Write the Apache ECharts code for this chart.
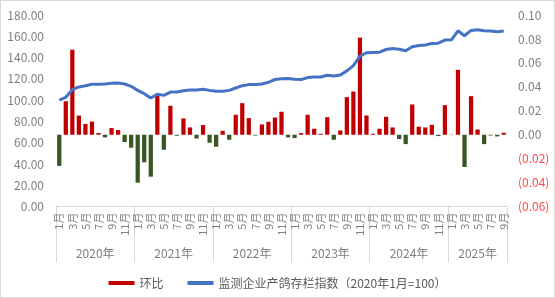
<!DOCTYPE html>
<html>
<head>
<meta charset="utf-8">
<script src="https://cdn.jsdelivr.net/npm/echarts@6/dist/echarts.min.js"></script>
<style>
html,body{margin:0;padding:0;background:#fff;}
#wrap{position:relative;width:555px;height:298px;}
#chart{position:absolute;left:0;top:0;width:555px;height:298px;}
#border{position:absolute;left:0;top:0;width:553px;height:296px;border:1px solid #d9d9d9;pointer-events:none;}
</style>
</head>
<body>
<div id="wrap"><div id="chart"></div><div id="border"></div></div>
<script>
// ---- data ----
const years = ['2020年', '2021年', '2022年', '2023年', '2024年', '2025年'];
const monthsPerYear = [12, 12, 12, 12, 12, 9];

// 环比 (month-on-month change), right axis
const momValues = [
  -0.026, 0.028, 0.071, 0.016, 0.009, 0.011, 0.0014, -0.0022, 0.0056, 0.0039, -0.0061, -0.0108,
  -0.040, -0.023, -0.035, 0.0325, -0.0125, 0.0242, -0.0008, 0.0136, 0.0061, -0.0031, 0.0081, -0.0067,
  -0.0100, 0.0033, -0.0042, 0.0167, 0.0264, 0.0139, -0.0006, 0.0086, 0.0108, 0.0144, 0.0192, -0.0022,
  -0.0028, 0.0014, 0.0167, 0.0050, 0.0008, 0.0147, -0.0042, 0.0036, 0.0314, 0.0361, 0.0811, 0.0161,
  0.0008, 0.0050, 0.0150, 0.0061, -0.0036, -0.0078, 0.0253, 0.0067, 0.0061, 0.0083, -0.0011, 0.0247,
  -0.0003, 0.0542, -0.0269, 0.0322, 0.0044, -0.0078, -0.0006, -0.0014, 0.0017
];

// 监测企业产鸽存栏指数（2020年1月=100）, left axis
const indexValues = [
  100.0, 102.7, 109.9, 112.4, 113.6, 114.9, 114.9, 115.2, 115.8, 116.2, 115.2, 113.0,
  109.2, 106.1, 102.0, 105.5, 104.5, 107.6, 107.6, 108.9, 109.5, 109.5, 110.2, 109.2,
  108.3, 108.3, 109.2, 111.4, 113.6, 114.6, 114.6, 115.2, 116.8, 119.4, 120.2, 120.3,
  119.6, 119.3, 121.2, 121.8, 121.8, 123.4, 122.7, 123.7, 127.5, 132.5, 141.3, 144.5,
  144.8, 145.1, 147.6, 148.5, 147.9, 146.4, 150.1, 151.3, 151.9, 153.2, 153.5, 156.4,
  156.7, 165.2, 160.5, 165.5, 166.1, 165.2, 164.9, 164.3, 164.9
];

const leftTicks = {min: 0, max: 180, interval: 20};
const rightTicks = {min: -0.06, max: 0.10, interval: 0.02};

// ---- build categories ----
const categories = [];
const yearStart = [];
years.forEach((y, yi) => {
  yearStart.push(categories.length);
  for (let m = 1; m <= monthsPerYear[yi]; m++) categories.push(y + m + '月');
});
const yearLabelIndex = {};
years.forEach((y, yi) => {
  const n = monthsPerYear[yi];
  const idx = yearStart[yi] + Math.floor(n / 2);
  yearLabelIndex[idx] = {text: y, even: n % 2 === 0};
});

const RED = '#C00000', GREEN = '#375623', BLUE = '#4472C4';
const FONT = '"Noto Sans CJK SC", "Noto Sans", sans-serif';
const barData = momValues.map(v => v < 0 ? {value: v, itemStyle: {color: GREEN}} : v);

const chart = echarts.init(document.getElementById('chart'));
chart.setOption({
  animation: false,
  backgroundColor: '#fff',
  textStyle: {fontFamily: FONT},
  grid: {left: 56, right: 48, top: 15, bottom: 91.4, containLabel: false},
  legend: {
    left: 'center', top: 272,
    itemWidth: 26, itemHeight: 4, itemGap: 24,
    textStyle: {color: '#595959', fontSize: 12, fontFamily: FONT},
    data: [
      {name: '环比', icon: 'rect', itemStyle: {color: RED}},
      {name: '监测企业产鸽存栏指数（2020年1月=100）', icon: 'rect', itemStyle: {color: BLUE}}
    ]
  },
  xAxis: [
    {
      type: 'category', data: categories, position: 'bottom',
      axisLine: {show: true, lineStyle: {color: '#d9d9d9'}},
      axisTick: {show: false},
      axisLabel: {
        interval: 1, rotate: 90, margin: 6, fontSize: 11, color: '#7f7f7f', fontFamily: FONT,
        formatter: v => v.slice(v.indexOf('年') + 1)
      }
    },
    {
      type: 'category', data: categories, position: 'bottom',
      axisLine: {show: false},
      axisTick: {show: false},
      axisLabel: {
        show: true, margin: 41, fontSize: 12, color: '#7f7f7f', fontFamily: FONT,
        interval: i => yearLabelIndex[i] !== undefined,
        formatter: (v, i) => {
          const e = yearLabelIndex[i];
          if (!e) return '';
          return e.even ? '{e|' + e.text + '}' : e.text;
        },
        rich: {e: {padding: [0, 6.5, 0, 0], fontSize: 12, color: '#7f7f7f', fontFamily: FONT}}
      }
    },
    {
      // year separators: ticks at each year's first month boundary
      type: 'value', position: 'bottom', min: 0, max: categories.length, interval: 12,
      axisLine: {show: true, lineStyle: {color: 'rgba(0,0,0,0)'}},
      axisTick: {show: true, length: 56, lineStyle: {color: '#d9d9d9'}},
      axisLabel: {show: false},
      splitLine: {show: false}
    }
  ],
  yAxis: [
    {
      type: 'value', min: leftTicks.min, max: leftTicks.max, interval: leftTicks.interval,
      axisLine: {show: false}, axisTick: {show: false}, splitLine: {show: false},
      axisLabel: {margin: 12, fontSize: 12, color: '#7f7f7f', fontFamily: FONT, formatter: v => v.toFixed(2)}
    },
    {
      type: 'value', min: rightTicks.min, max: rightTicks.max, interval: rightTicks.interval,
      axisLine: {show: false}, axisTick: {show: false}, splitLine: {show: false},
      axisLabel: {
        margin: 11, fontSize: 12, fontFamily: FONT,
        color: v => (v < -1e-9 ? '#ff4b4b' : '#7f7f7f'),
        formatter: v => {
          const r = Math.round(v * 100) / 100;
          return r < 0 ? '(' + Math.abs(r).toFixed(2) + ')' : r.toFixed(2);
        }
      }
    }
  ],
  series: [
    {
      name: '环比', type: 'bar', xAxisIndex: 0, yAxisIndex: 1,
      data: barData, barWidth: '65%', itemStyle: {color: RED}
    },
    {
      name: '监测企业产鸽存栏指数（2020年1月=100）', type: 'line', xAxisIndex: 0, yAxisIndex: 0,
      data: indexValues, symbol: 'none', smooth: false, z: 5,
      lineStyle: {color: BLUE, width: 3}, itemStyle: {color: BLUE}
    }
  ]
});
</script>
</body>
</html>
